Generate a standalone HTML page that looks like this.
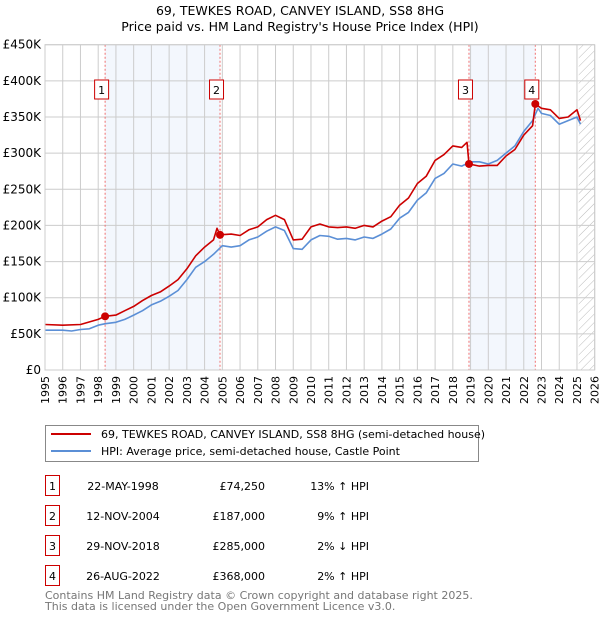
<!DOCTYPE html>
<html><head><meta charset="utf-8"><style>
body{margin:0;background:#fff;font-family:"DejaVu Sans","Liberation Sans",sans-serif;}
svg text{font-family:"DejaVu Sans","Liberation Sans",sans-serif;}
</style></head><body>
<svg id="c" width="600" height="620" xmlns="http://www.w3.org/2000/svg">
<defs><pattern id="hatch" width="6" height="6" patternUnits="userSpaceOnUse" patternTransform="rotate(45)"><line x1="0" y1="0" x2="0" y2="6" stroke="#bbb" stroke-width="1"/></pattern></defs>
<text x="300" y="15" text-anchor="middle" font-size="12.5">69, TEWKES ROAD, CANVEY ISLAND, SS8 8HG</text>
<text x="300" y="31" text-anchor="middle" font-size="12.5">Price paid vs. HM Land Registry's House Price Index (HPI)</text>
<g id="plot"></g>
<g>
<rect x="45.5" y="425.5" width="433" height="36" fill="#fff" stroke="#888"/>
<line x1="51" y1="434" x2="91" y2="434" stroke="#cc0000" stroke-width="2"/>
<text x="101" y="438" font-size="11">69, TEWKES ROAD, CANVEY ISLAND, SS8 8HG (semi-detached house)</text>
<line x1="51" y1="451" x2="91" y2="451" stroke="#5b8fd6" stroke-width="2"/>
<text x="101" y="455" font-size="11">HPI: Average price, semi-detached house, Castle Point</text>
</g>
<g id="table" font-size="11"></g>
<text x="45" y="599" font-size="11" fill="#777">Contains HM Land Registry data © Crown copyright and database right 2025.</text>
<text x="45" y="610" font-size="11" fill="#777">This data is licensed under the Open Government Licence v3.0.</text>
</svg>
<script>
const hpiYears=[1995,1996,1996.5,1997,1997.5,1998,1998.4,1999,1999.5,2000,2000.5,2001,2001.5,2002,2002.5,2003,2003.5,2004,2004.5,2005,2005.5,2006,2006.5,2007,2007.5,2008,2008.5,2009,2009.5,2010,2010.5,2011,2011.5,2012,2012.5,2013,2013.5,2014,2014.5,2015,2015.5,2016,2016.5,2017,2017.5,2018,2018.5,2019,2019.5,2020,2020.5,2021,2021.5,2022,2022.5,2022.8,2023,2023.5,2024,2024.5,2025,2025.2];
const hpiValues=[55,55,54,56,57,62,64,66,70,76,82,90,95,102,110,125,142,150,160,172,170,172,180,184,192,198,193,168,167,180,186,185,181,182,180,184,182,188,195,210,218,235,245,265,272,285,282,288,288,285,290,300,310,330,345,362,355,352,340,345,350,340];
const priceYears=[1995,1996,1997,1998,1998.39,1999,1999.5,2000,2000.5,2001,2001.5,2002,2002.5,2003,2003.5,2004,2004.5,2004.7,2004.87,2005.5,2006,2006.5,2007,2007.5,2008,2008.5,2009,2009.5,2010,2010.5,2011,2011.5,2012,2012.5,2013,2013.5,2014,2014.5,2015,2015.5,2016,2016.5,2017,2017.5,2018,2018.5,2018.8,2018.91,2019.5,2020,2020.5,2021,2021.5,2022,2022.5,2022.65,2023,2023.5,2024,2024.5,2025,2025.2];
const priceValues=[63,62,63,70,74.25,76,82,88,96,103,108,116,125,140,158,170,180,196,187,188,186,194,198,208,214,208,180,181,198,202,198,197,198,196,200,198,206,212,228,238,258,268,290,298,310,308,315,285,282,283,283,296,305,325,338,368,362,360,348,350,360,345];
const saleYears=[1998.39,2004.87,2018.91,2022.65];
const saleValues=[74.25,187,285,368];
const saleLabels=["1","2","3","4"];
const saleDates=["22-MAY-1998","12-NOV-2004","29-NOV-2018","26-AUG-2022"];
const salePrices=["£74,250","£187,000","£285,000","£368,000"];
const saleDiffs=["13% ↑ HPI","9% ↑ HPI","2% ↓ HPI","2% ↑ HPI"];
const yTicks=[0,50,100,150,200,250,300,350,400,450];
const yTickLabels=["£0","£50K","£100K","£150K","£200K","£250K","£300K","£350K","£400K","£450K"];
const xTicks=[];for(let y=1995;y<=2026;y++)xTicks.push(y);

const NS="http://www.w3.org/2000/svg";
const X0=45,X1=594.7,Y0=370,Y1=44.7;
const xs=v=>X0+(v-1995)*(X1-X0)/31;
const ys=v=>Y0-v*(Y0-Y1)/450;
const plot=document.getElementById('plot');
function mk(tag,attrs,parent){const e=document.createElementNS(NS,tag);for(const k in attrs)e.setAttribute(k,attrs[k]);(parent||plot).appendChild(e);return e;}
for(let i=0;i<saleYears.length;i+=2){
 const r=mk('rect',{x:xs(saleYears[i]),y:Y1,width:xs(saleYears[i+1])-xs(saleYears[i]),height:Y0-Y1,fill:'#eef3fc',opacity:0.7});
 
 
}
const h=mk('rect',{x:xs(2025.1),y:Y1,width:X1-xs(2025.1),height:Y0-Y1,fill:'url(#hatch)'});


xTicks.forEach(t=>{
 const l=mk('line',{x1:xs(t),x2:xs(t),y1:Y1,y2:Y0,stroke:'#ccc','stroke-width':1});
 
 
 const tx=mk('text',{x:0,y:0,'font-size':11,'text-anchor':'end',transform:`translate(${xs(t)+4},${Y0+6}) rotate(-90)`});
 tx.textContent=t;
 
 
});
yTicks.forEach((t,i)=>{
 const l=mk('line',{x1:X0,x2:X1,y1:ys(t),y2:ys(t),stroke:'#ccc','stroke-width':1});
 
 
 const tx=mk('text',{x:X0-4,y:ys(t)+4,'font-size':12,'text-anchor':'end'});
 tx.textContent=yTickLabels[i];
 
 
});
saleYears.forEach((s,i)=>{
 const l=mk('line',{x1:xs(s),x2:xs(s),y1:Y1,y2:Y0,stroke:'#f07070','stroke-width':1,'stroke-dasharray':'2,2'});
 
 
});
function path(xa,va,col,name){
 const d=xa.map((x,i)=>(i?'L':'M')+xs(x).toFixed(1)+','+ys(va[i]).toFixed(1)).join('');
 const p=mk('path',{d:d,fill:'none',stroke:col,'stroke-width':1.6,'stroke-linejoin':'round'});
 
 
}
path(hpiYears,hpiValues,'#5b8fd6','hpi-line');
path(priceYears,priceValues,'#cc0000','price-line');
saleYears.forEach((s,i)=>{
 const c=mk('circle',{cx:xs(s),cy:ys(saleValues[i]),r:4,fill:'#cc0000'});
 
 
 const b=mk('rect',{x:xs(s)-10.5,y:80,width:14,height:19,fill:'#fff',stroke:'#cc0000'});
 
 
 const t=mk('text',{x:xs(s)-3.5,y:94,'font-size':11,'text-anchor':'middle'});
 t.textContent=saleLabels[i];
 
 
});
const ax=mk('rect',{x:X0,y:Y1,width:X1-X0,height:Y0-Y1,fill:'none',stroke:'#ccc'});


const tb=document.getElementById('table');
saleLabels.forEach((lab,i)=>{
 const y=486+i*30;
 const b=mk('rect',{x:45.5,y:y-10.5,width:14,height:20,fill:'#fff',stroke:'#cc0000'},tb);
 
 
 const cells=[[52.5,lab,'middle'],[123,saleDates[i],'middle'],[265,salePrices[i],'end'],[369,saleDiffs[i],'end']];
 cells.forEach(c=>{
  const t=mk('text',{x:c[0],y:y+4,'text-anchor':c[2]},tb);
  t.textContent=c[1];
  
  
 });
});
</script>
</body></html>
